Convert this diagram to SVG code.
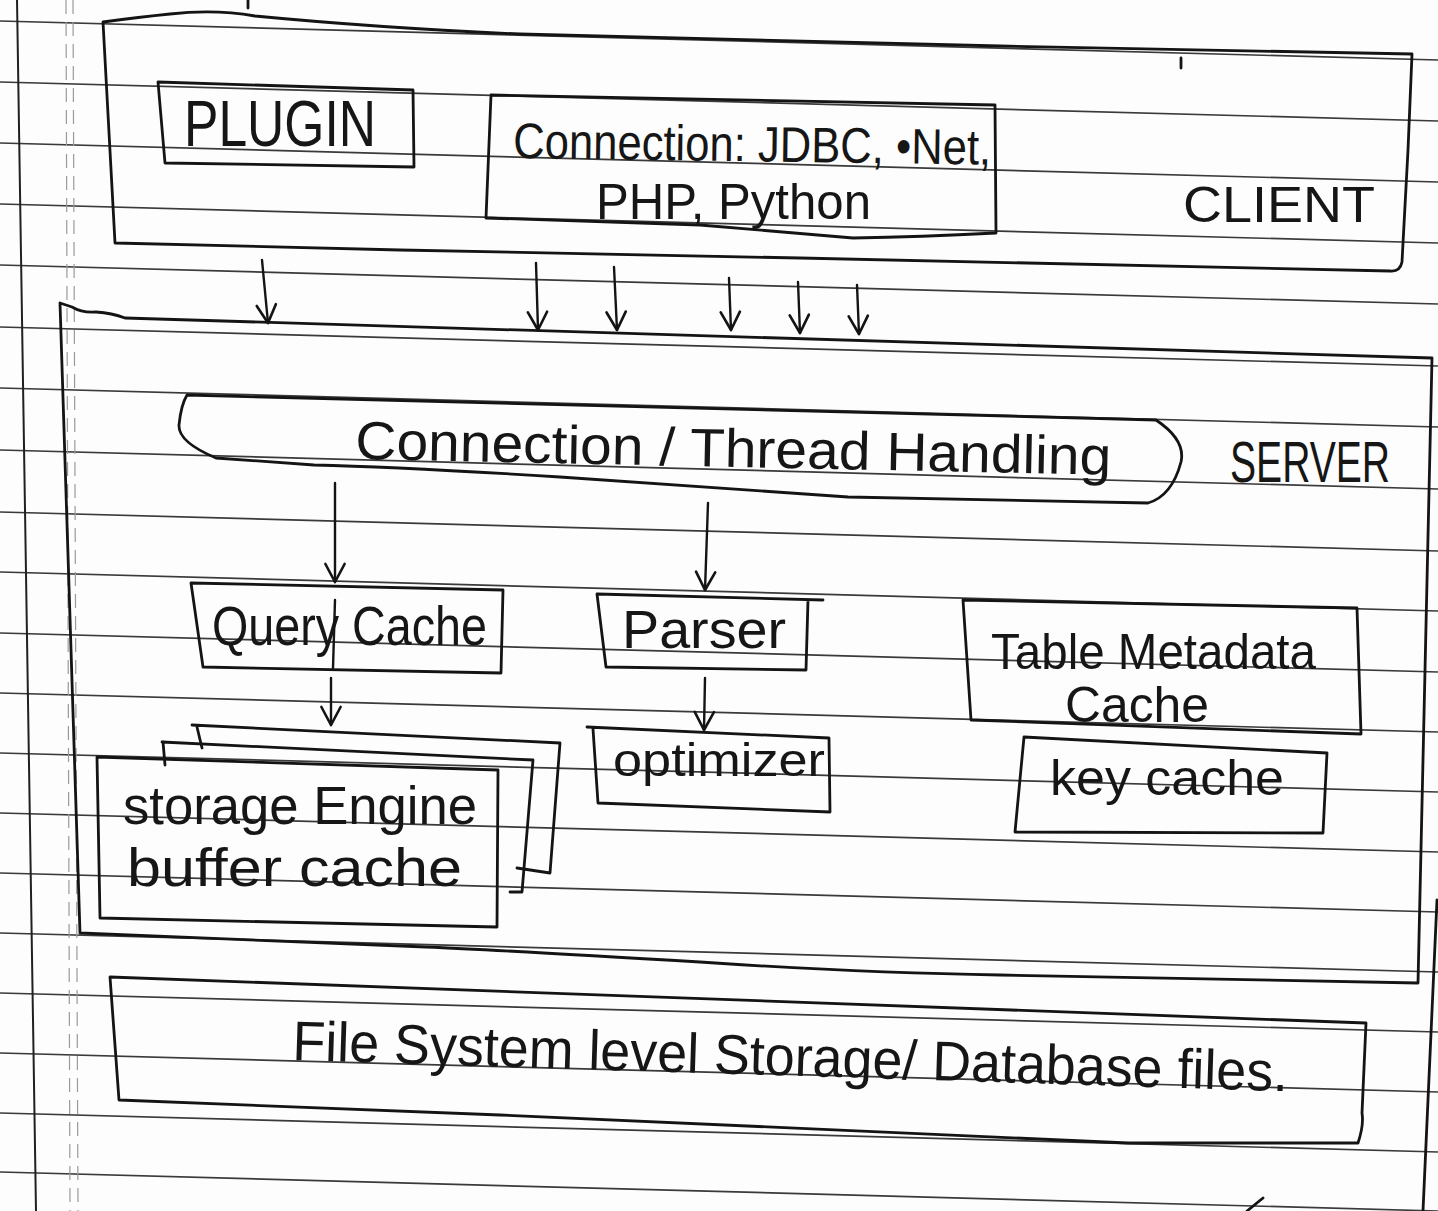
<svg xmlns="http://www.w3.org/2000/svg" width="1438" height="1211" viewBox="0 0 1438 1211">
<defs>
<style>
.rule{stroke:#3a3a3a;stroke-width:1.7;fill:none}
.margin{stroke:#9a9a9a;stroke-width:1.2;fill:none;stroke-dasharray:14 8}
.ink{stroke:#141414;stroke-width:2.8;fill:none;stroke-linejoin:round;stroke-linecap:round}
.conn{stroke:#141414;stroke-width:2.4;fill:none;stroke-linecap:round}
.t{font-family:"Liberation Sans","DejaVu Sans",sans-serif;fill:#161616;font-weight:400}
</style>
<marker id="v" viewBox="0 0 20 20" refX="18" refY="10" markerWidth="24" markerHeight="24" markerUnits="userSpaceOnUse" orient="auto">
<path d="M3,2 L18,10 L3,18" fill="none" stroke="#141414" stroke-width="2.2" stroke-linecap="round" stroke-linejoin="round"/>
</marker>
</defs>
<rect width="1438" height="1211" fill="#fdfdfd"/>
<g id="paper">
<path class="rule" d="M0,21 L1438,60 M0,82 L1438,121 M0,143 L1438,182 M0,204 L1438,243 M0,265 L1438,304 M0,327 L1438,366 M0,388 L1438,427 M0,450 L1438,489 M0,512 L1438,551 M0,572 L1438,611 M0,633 L1438,672 M0,693 L1438,732 M0,753 L1438,792 M0,813 L1438,852 M0,873 L1438,912 M0,933 L1438,972 M0,993 L1438,1032 M0,1053 L1438,1092 M0,1113 L1438,1152 M0,1172 L1438,1211"/>
<path class="rule" d="M17,0 L36,1211" style="stroke:#202020;stroke-width:2"/>
<path class="margin" d="M66,0 L70,1211 M73,0 L78,1211"/>
<path class="ink" d="M248,0 L248,8 M1181,58 L1181,68 M1247,1211 L1263,1198 M1437,900 L1423,1211"/>
</g>
<g id="client">
<path class="ink" d="M103,22 Q140,17 170,14 Q215,9 255,16 Q380,28 520,34 Q800,42 1000,46 L1412,54 L1408,150 L1402,262 Q1400,272 1390,271 L800,258 L400,250 L115,243 Z"/>
<text class="t" x="1183" y="222" font-size="50" textLength="192" lengthAdjust="spacingAndGlyphs">CLIENT</text>
</g>
<g id="plugin">
<path class="ink" d="M158,82 L413,90 L414,167 L165,163 Z"/>
<text class="t" x="184" y="146" font-size="64" textLength="192" lengthAdjust="spacingAndGlyphs">PLUGIN</text>
</g>
<g id="connectors-client">
<path class="ink" d="M491,95 L995,105 L996,233 Q920,237 853,238 Q780,232 700,225 L486,218 Z"/>
<text class="t" x="513" y="158" font-size="50" textLength="478" lengthAdjust="spacingAndGlyphs" transform="rotate(0.8 513 158)">Connection: JDBC, •Net,</text>
<text class="t" x="596" y="219" font-size="50" textLength="275" lengthAdjust="spacingAndGlyphs">PHP, Python</text>
</g>
<g id="server">
<path class="ink" d="M60,303 Q66,305 72,307 Q82,313 96,312 Q112,313 125,318 L1432,358 L1418,983 Q1200,978 1000,975 Q860,973 700,962 Q500,950 426,947 L80,933 Z"/>
<text class="t" x="0" y="0" font-size="46" textLength="160" lengthAdjust="spacingAndGlyphs" transform="translate(1230,482) scale(1,1.25)">SERVER</text>
</g>
<g id="thread-handling">
<path class="ink" d="M187,395 L1156,420 Q1186,440 1181,462 Q1172,496 1148,503 Q1000,500 848,497 Q700,487 560,477 Q400,467 314,465 L216,458 Q178,442 179,425 Q181,405 187,395 Z"/>
<text class="t" x="355" y="459" font-size="54" textLength="756" lengthAdjust="spacingAndGlyphs" transform="rotate(1.2 355 459)">Connection / Thread Handling</text>
</g>
<g id="query-cache">
<path class="ink" d="M191,583 L503,590 L501,673 L203,667 Z"/>
<text class="t" x="212" y="645" font-size="56" textLength="275" lengthAdjust="spacingAndGlyphs">Query Cache</text>
</g>
<g id="parser">
<path class="ink" d="M823,600 L597,594 L606,667 L806,670 L808,600"/>
<text class="t" x="622" y="648" font-size="54" textLength="164" lengthAdjust="spacingAndGlyphs">Parser</text>
</g>
<g id="table-metadata-cache">
<path class="ink" d="M963,600 L1357,608 L1361,734 L971,720 Z"/>
<text class="t" x="991" y="669" font-size="50" textLength="325" lengthAdjust="spacingAndGlyphs">Table Metadata</text>
<text class="t" x="1065" y="722" font-size="50" textLength="144" lengthAdjust="spacingAndGlyphs">Cache</text>
</g>
<g id="key-cache">
<path class="ink" d="M1024,737 L1327,753 L1323,833 L1015,832 Z"/>
<text class="t" x="1050" y="795" font-size="50" textLength="234" lengthAdjust="spacingAndGlyphs">key cache</text>
</g>
<g id="optimizer">
<path class="ink" d="M587,727 L829,738 L830,812 L598,803 L593,729"/>
<text class="t" x="613" y="776" font-size="46" textLength="212" lengthAdjust="spacingAndGlyphs">optimizer</text>
</g>
<g id="storage-engine">
<path class="ink" d="M192,725 L560,743 L550,873 L517,868 M197,727 L202,748"/>
<path class="ink" d="M162,742 L533,760 L522,892 L510,892 M163,742 L165,765"/>
<path class="ink" d="M97,757 L498,770 L497,927 L100,918 Z"/>
<text class="t" x="123" y="824" font-size="54" textLength="354" lengthAdjust="spacingAndGlyphs">storage Engine</text>
<text class="t" x="127" y="886" font-size="54" textLength="335" lengthAdjust="spacingAndGlyphs">buffer cache</text>
</g>
<g id="file-system">
<path class="ink" d="M110,977 L1366,1023 L1362,1113 Q1364,1125 1358,1143 L1128,1143 Q800,1128 500,1115 L119,1100 Z"/>
<text class="t" x="292" y="1060" font-size="56" textLength="996" lengthAdjust="spacingAndGlyphs" transform="rotate(1.8 292 1060)">File System level Storage/ Database files.</text>
</g>
<g id="connectors">
<path class="conn" marker-end="url(#v)" d="M262,260 L268,323"/>
<path class="conn" marker-end="url(#v)" d="M536,263 L538,330"/>
<path class="conn" marker-end="url(#v)" d="M614,267 L617,330"/>
<path class="conn" marker-end="url(#v)" d="M729,278 L731,330"/>
<path class="conn" marker-end="url(#v)" d="M798,282 L800,333"/>
<path class="conn" marker-end="url(#v)" d="M857,285 L859,334"/>
<path class="conn" marker-end="url(#v)" d="M335,483 L335,582"/>
<path class="conn" marker-end="url(#v)" d="M708,503 L705,590"/>
<path class="conn" d="M335,600 L333,668"/>
<path class="conn" marker-end="url(#v)" d="M331,678 L331,725"/>
<path class="conn" marker-end="url(#v)" d="M705,678 L704,730"/>
</g>
</svg>
